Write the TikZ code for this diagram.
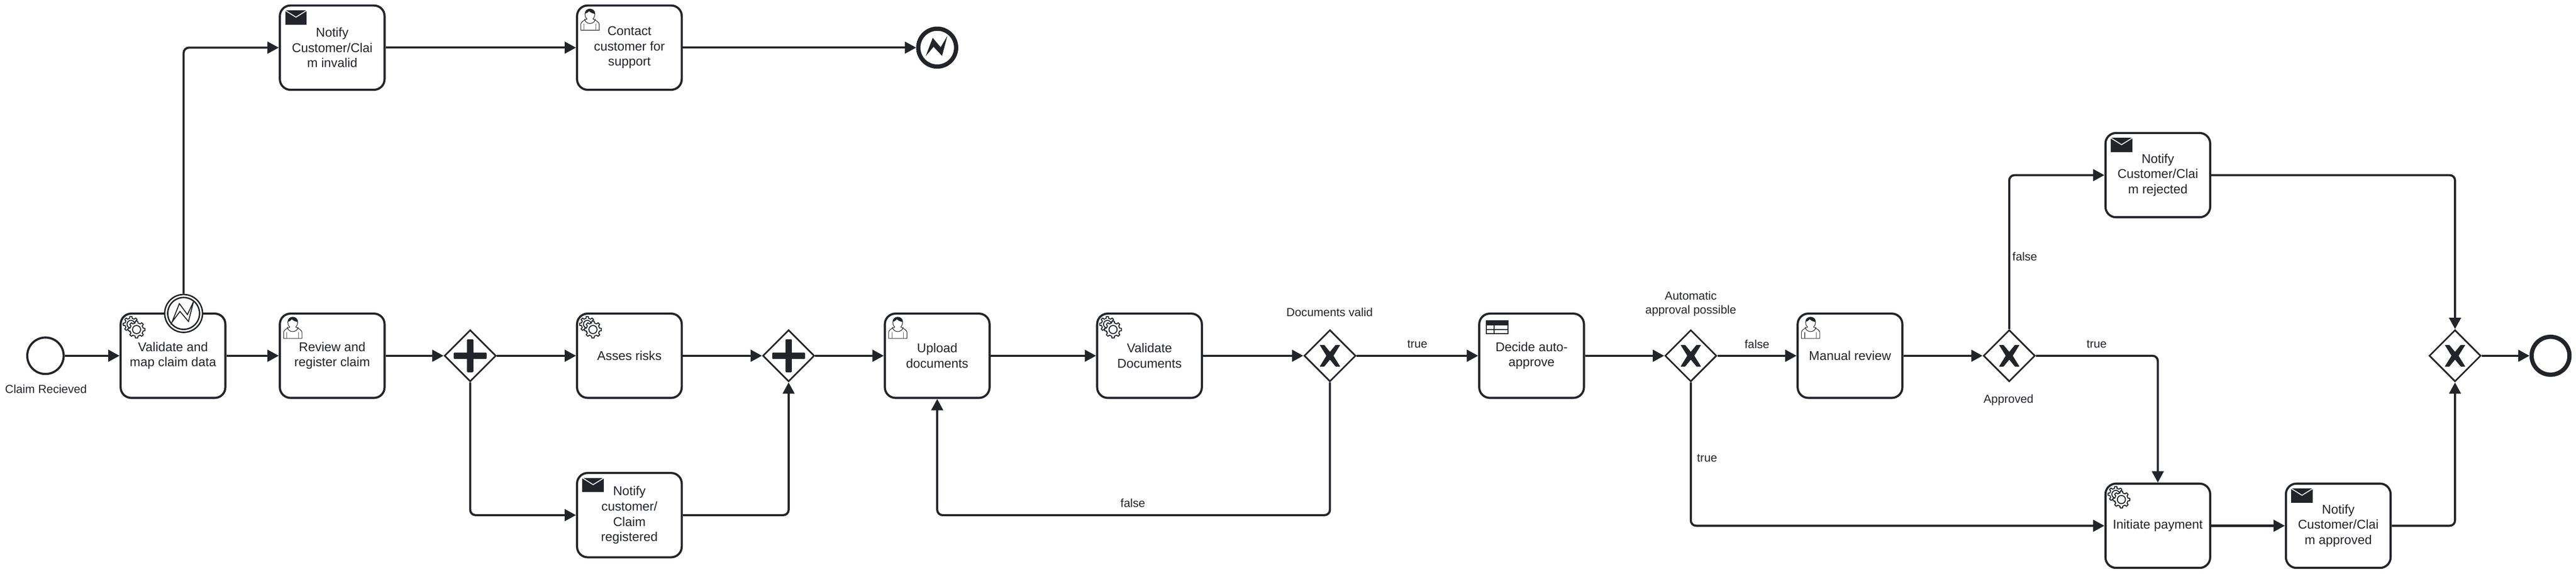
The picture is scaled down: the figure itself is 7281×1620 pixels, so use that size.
\documentclass[tikz,border=0pt]{standalone}
\usepackage{fontspec}
\setmainfont{Liberation Sans}
\usetikzlibrary{arrows.meta,shapes.geometric}
\definecolor{ink}{HTML}{22242A}
\tikzset{
  task/.style={draw=ink,fill=white,text=ink,rectangle,rounded corners=30pt,line width=6pt,minimum width=296pt,minimum height=238pt,inner sep=0pt,align=center,font=\fontsize{36}{43}\selectfont},
  gate/.style={draw=ink,fill=white,diamond,aspect=1,line width=4.5pt,minimum width=146pt,minimum height=146pt,inner sep=0pt},
  startev/.style={draw=ink,fill=white,circle,line width=6pt,minimum size=103pt,inner sep=0pt},
  endev/.style={draw=ink,fill=white,circle,line width=12pt,minimum size=107pt,inner sep=0pt},
  boundev/.style={draw=ink,fill=white,circle,line width=4pt,minimum size=107pt,inner sep=0pt},
  boundin/.style={draw=ink,circle,line width=4pt,minimum size=90pt,inner sep=0pt},
  lab/.style={text=ink,inner sep=0pt,align=center,font=\fontsize{33}{40}\selectfont},
  flow/.style={draw=ink,line width=6pt,rounded corners=15pt,-{Triangle[length=32pt,width=33pt]}},
  gearicon/.pic={
    \foreach \cx/\cy/\ra/\rb/\rc in {32/33/22/17/11,48/48/24/19/11.5}{
      \begin{scope}[shift={(\cx,\cy)}]
        \draw[ink,fill=white,line width=2.8pt,line join=round] (-12:\rb)
          \foreach \a in {0,45,...,315}{ -- ({\a-12}:\rb) -- ({\a-8}:\ra) -- ({\a+8}:\ra) -- ({\a+12}:\rb) } -- cycle;
        \draw[ink,fill=white,line width=2.8pt] (0,0) circle[radius=\rc];
      \end{scope}
    }
  },
  usericon/.pic={
    \draw[ink,fill=white,line width=1.6pt] (13.7,73) -- (13.7,56) .. controls (14,50) and (20,46) .. (31,41)
      .. controls (26,36) and (25.5,32) .. (25.5,27) .. controls (25.5,18) and (32,13) .. (39.5,13)
      .. controls (47,13) and (53.5,18) .. (53.5,27) .. controls (53.5,32) and (52,36) .. (48,41)
      .. controls (58,46) and (65,50) .. (65.5,56) -- (65.5,73) -- cycle;
    \draw[ink,line width=1.6pt] (24,41) .. controls (27,58) and (52,58) .. (55,41);
    \draw[ink!75,line width=1.6pt] (23,55) -- (23,73) (55.7,55) -- (55.7,73);
    \fill[ink] (26,26) .. controls (25.5,18) and (32,13) .. (39.5,13) .. controls (47,13) and (53.5,18) .. (53.5,27)
      .. controls (47,25) and (42,24) .. (37,19) .. controls (34,23) and (30,25) .. (26,26) -- cycle;
  },
  mailicon/.pic={
    \fill[ink] (18,17) rectangle (79,57);
    \draw[white,line width=2.5pt] (18,17) -- (48.5,36) -- (79,17);
  },
  tableicon/.pic={
    \draw[ink,fill=white,line width=3pt] (23.5,23.5) rectangle (84.5,60);
    \fill[ink] (23.5,23.5) rectangle (84.5,36);
    \draw[ink,line width=3pt] (23.5,48) -- (84.5,48) (45,36) -- (45,60);
  },
  xmark/.pic={
    \fill[ink,rounded corners=1pt] (-29,-30.5) -- (-16,-30.5) -- (0,-11) -- (16,-30.5) -- (29,-30.5) -- (10,0) -- (29,30.5) -- (16,30.5) -- (0,11) -- (-16,30.5) -- (-29,30.5) -- (-10,0) -- cycle;
  },
  plusmark/.pic={
    \fill[ink,rounded corners=2pt] (-46.5,-9) rectangle (46.5,9);
    \fill[ink,rounded corners=2pt] (-9,-46.5) rectangle (9,46.5);
  },
  zigline/.pic={
    \draw[ink,fill=white,line width=2.8pt,line join=miter] (-32.7,24.3) -- (-12,-27.7) -- (10.7,3.3) -- (28,-33.3) -- (13.7,22.7) -- (-10.3,-5.7) -- cycle;
  },
  zigfill/.pic={
    \fill[ink,line join=round] (-32.7,24.3) -- (-12.7,-27.7) -- (9.7,-1) -- (28.7,-33.3) -- (13.7,23.3) -- (-10.3,-2.3) -- cycle;
  }
}
\begin{document}
\begin{tikzpicture}[x=1pt,y=-1pt]
\useasboundingbox (0,0) rectangle (7281,1620);
\fill[white] (0,0) rectangle (7281,1620);

% nodes
\node[startev] (start) at (128.5,1004.5) {};
\node[lab] (startlab) at (130,1098) {Claim Recieved};
\node[task] (t1) at (489,1004.5) {Validate and\\map claim data};
\node[task] (t2) at (939,1004.5) {Review and\\register claim};
\node[gate] (g1) at (1329,1004.5) {};
\node[task] (asses) at (1779,1004.5) {Asses risks};
\node[task] (reg) at (1779,1454.5) {Notify\\customer/\\Claim\\registered};
\node[gate] (g2) at (2229,1004.5) {};
\node[task] (upload) at (2649,1004.5) {Upload\\documents};
\node[task] (valdoc) at (3249,1004.5) {Validate\\Documents};
\node[gate] (g3) at (3759,1004.5) {};
\node[lab] (g3lab) at (3758,882) {Documents valid};
\node[task] (decide) at (4329,1004.5) {Decide auto-\\approve};
\node[gate] (g4) at (4779,1004.5) {};
\node[lab] (g4lab) at (4779,858) {Automatic\\approval possible};
\node[task] (manual) at (5229,1004.5) {Manual review};
\node[gate] (g5) at (5679,1004.5) {};
\node[lab] (g5lab) at (5677,1129) {Approved};
\node[task] (rejected) at (6099,494.5) {Notify\\Customer/Clai\\m rejected};
\node[task] (pay) at (6099,1484.5) {Initiate payment};
\node[task] (approved) at (6609,1484.5) {Notify\\Customer/Clai\\m approved};
\node[gate] (g6) at (6939,1004.5) {};
\node[endev] (finish) at (7209,1004.5) {};
\node[task] (invalid) at (939,134.5) {Notify\\Customer/Clai\\m invalid};
\node[task] (contact) at (1779,134.5) {Contact\\customer for\\support};
\node[endev] (errend) at (2649,134.5) {};
\node[boundev] (bound) at (519,885) {};
\node[boundin] (boundring) at (519,885) {};
\coordinate (loop) at (3200,1454.5);

% connectors
\draw[flow] (start) -- (t1);
\draw[flow] (t1) -- (t2);
\draw[flow] (t2) -- (g1);
\draw[flow] (g1) -- (asses);
\draw[flow] (asses) -- (g2);
\draw[flow] (g1.south) |- (reg.west);
\draw[flow] (reg.east) -| (g2.south);
\draw[flow] (g2) -- (upload);
\draw[flow] (upload) -- (valdoc);
\draw[flow] (valdoc) -- (g3);
\draw[flow] (g3.south) |- (loop) -| (upload.south);
\draw[flow] (g3) -- (decide);
\draw[flow] (decide) -- (g4);
\draw[flow] (g4) -- (manual);
\draw[flow] (g4.south) |- (pay.west);
\draw[flow] (manual) -- (g5);
\draw[flow] (g5.north) |- (rejected.west);
\draw[flow] (g5.east) -| (pay.north);
\draw[flow] (pay) -- (approved);
\draw[flow] (rejected.east) -| (g6.north);
\draw[flow] (approved.east) -| (g6.south);
\draw[flow] (g6) -- (finish);
\draw[flow] (bound.north) |- (invalid.west);
\draw[flow] (invalid) -- (contact);
\draw[flow] (contact) -- (errend);

% flow labels
\node[lab] (lbfalse1) at (3202,1420) {false};
\node[lab] (lbtrue1) at (4006,972) {true};
\node[lab] (lbfalse2) at (4966,972) {false};
\node[lab] (lbtrue2) at (4825,1294) {true};
\node[lab] (lbfalse3) at (5723,724) {false};
\node[lab] (lbtrue3) at (5926,971) {true};

% icons
\pic at (t1.north west) {gearicon};
\pic at (asses.north west) {gearicon};
\pic at (valdoc.north west) {gearicon};
\pic at (pay.north west) {gearicon};
\pic at (t2.north west) {usericon};
\pic at (upload.north west) {usericon};
\pic at (manual.north west) {usericon};
\pic at (contact.north west) {usericon};
\pic at (reg.north west) {mailicon};
\pic at (invalid.north west) {mailicon};
\pic at (rejected.north west) {mailicon};
\pic at (approved.north west) {mailicon};
\pic at (decide.north west) {tableicon};
\pic at (g1) {plusmark};
\pic at (g2) {plusmark};
\pic at (g3) {xmark};
\pic at (g4) {xmark};
\pic at (g5) {xmark};
\pic at (g6) {xmark};
\pic at (bound) {zigline};
\pic at (errend) {zigfill};
\end{tikzpicture}
\end{document}
